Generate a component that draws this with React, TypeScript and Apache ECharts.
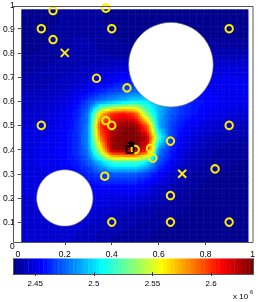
import React, { useEffect, useRef } from 'react';
import * as echarts from 'echarts';

// ---- data ----
const fieldX = [0, 0.05, 0.1, 0.15, 0.2, 0.25, 0.3, 0.35, 0.4, 0.45, 0.5, 0.55, 0.6, 0.65, 0.7, 0.75, 0.8, 0.85, 0.9, 0.95, 1];
const fieldY = [1, 0.95, 0.9, 0.85, 0.8, 0.75, 0.7, 0.65, 0.6, 0.55, 0.5, 0.45, 0.4, 0.35, 0.3, 0.25, 0.2, 0.15, 0.1, 0.05, 0];
// values in units of 10^6, rows from y=1 (top) to y=0 (bottom)
const fieldRows = [
  [2.432, 2.432, 2.432, 2.433, 2.434, 2.435, 2.435, 2.434, 2.433, 2.432, 2.432, 2.432, 2.432, 2.432, 2.432, 2.432, 2.432, 2.432, 2.432, 2.432, 2.432],
  [2.432, 2.432, 2.433, 2.434, 2.435, 2.436, 2.436, 2.435, 2.433, 2.432, 2.432, 2.432, 2.432, 2.432, 2.432, 2.432, 2.432, 2.432, 2.432, 2.432, 2.432],
  [2.432, 2.433, 2.433, 2.434, 2.436, 2.437, 2.437, 2.436, 2.434, 2.433, 2.432, 2.432, 2.432, 2.432, 2.432, 2.432, 2.432, 2.433, 2.433, 2.433, 2.433],
  [2.433, 2.433, 2.434, 2.435, 2.437, 2.438, 2.438, 2.437, 2.435, 2.434, 2.433, 2.432, 2.432, 2.432, 2.432, 2.433, 2.434, 2.435, 2.435, 2.435, 2.435],
  [2.434, 2.434, 2.435, 2.436, 2.438, 2.439, 2.439, 2.438, 2.437, 2.436, 2.435, 2.434, 2.434, 2.434, 2.435, 2.437, 2.439, 2.440, 2.440, 2.440, 2.439],
  [2.436, 2.436, 2.437, 2.438, 2.439, 2.440, 2.441, 2.442, 2.443, 2.444, 2.444, 2.441, 2.439, 2.439, 2.440, 2.442, 2.444, 2.446, 2.447, 2.446, 2.445],
  [2.438, 2.438, 2.439, 2.440, 2.441, 2.443, 2.445, 2.448, 2.451, 2.455, 2.456, 2.452, 2.447, 2.446, 2.446, 2.447, 2.449, 2.451, 2.452, 2.451, 2.449],
  [2.440, 2.440, 2.441, 2.442, 2.444, 2.447, 2.452, 2.458, 2.463, 2.468, 2.472, 2.472, 2.468, 2.463, 2.459, 2.456, 2.454, 2.453, 2.453, 2.452, 2.450],
  [2.443, 2.443, 2.444, 2.446, 2.449, 2.455, 2.468, 2.480, 2.488, 2.495, 2.505, 2.503, 2.490, 2.476, 2.466, 2.460, 2.456, 2.454, 2.453, 2.452, 2.450],
  [2.445, 2.445, 2.446, 2.448, 2.452, 2.460, 2.478, 2.565, 2.600, 2.608, 2.595, 2.530, 2.492, 2.474, 2.464, 2.458, 2.454, 2.451, 2.449, 2.447, 2.446],
  [2.447, 2.447, 2.448, 2.450, 2.454, 2.462, 2.482, 2.600, 2.620, 2.632, 2.632, 2.590, 2.490, 2.468, 2.458, 2.452, 2.448, 2.445, 2.443, 2.442, 2.441],
  [2.449, 2.449, 2.450, 2.452, 2.455, 2.463, 2.484, 2.582, 2.628, 2.635, 2.635, 2.625, 2.520, 2.468, 2.453, 2.447, 2.443, 2.440, 2.439, 2.438, 2.437],
  [2.450, 2.450, 2.451, 2.453, 2.456, 2.463, 2.482, 2.548, 2.630, 2.635, 2.635, 2.610, 2.482, 2.462, 2.449, 2.443, 2.440, 2.437, 2.436, 2.436, 2.435],
  [2.450, 2.450, 2.451, 2.452, 2.455, 2.460, 2.472, 2.495, 2.518, 2.522, 2.522, 2.505, 2.470, 2.455, 2.445, 2.440, 2.437, 2.435, 2.435, 2.434, 2.434],
  [2.449, 2.449, 2.450, 2.451, 2.453, 2.456, 2.462, 2.468, 2.472, 2.474, 2.473, 2.466, 2.456, 2.447, 2.441, 2.437, 2.435, 2.434, 2.434, 2.434, 2.434],
  [2.448, 2.448, 2.449, 2.450, 2.451, 2.453, 2.455, 2.456, 2.457, 2.457, 2.456, 2.452, 2.446, 2.441, 2.438, 2.435, 2.434, 2.433, 2.433, 2.433, 2.433],
  [2.447, 2.447, 2.448, 2.449, 2.450, 2.451, 2.451, 2.451, 2.450, 2.449, 2.448, 2.445, 2.441, 2.438, 2.436, 2.434, 2.434, 2.433, 2.433, 2.433, 2.433],
  [2.447, 2.447, 2.447, 2.448, 2.448, 2.448, 2.448, 2.447, 2.445, 2.443, 2.441, 2.439, 2.437, 2.436, 2.435, 2.434, 2.433, 2.433, 2.433, 2.432, 2.432],
  [2.447, 2.447, 2.447, 2.447, 2.447, 2.446, 2.445, 2.443, 2.441, 2.439, 2.438, 2.437, 2.435, 2.434, 2.433, 2.433, 2.433, 2.432, 2.432, 2.432, 2.432],
  [2.446, 2.446, 2.446, 2.446, 2.445, 2.444, 2.442, 2.440, 2.438, 2.437, 2.436, 2.435, 2.434, 2.433, 2.433, 2.432, 2.432, 2.432, 2.432, 2.432, 2.432],
  [2.445, 2.445, 2.445, 2.445, 2.444, 2.443, 2.441, 2.439, 2.437, 2.436, 2.435, 2.434, 2.433, 2.433, 2.432, 2.432, 2.432, 2.432, 2.432, 2.432, 2.432],
];

const colorMin = 2.4313;
const colorMax = 2.6358;
const colorbarTicks = [2.45, 2.5, 2.55, 2.6];

const sensorX = [0.15, 0.375, 0.1, 0.4, 0.15, 0.335, 0.465, 0.1, 0.375, 0.4, 0.9, 0.9, 0.37, 0.4, 0.65, 0.565, 0.575, 0.84, 0.65, 0.65, 0.9, 0.5];
const sensorY = [0.975, 0.985, 0.9, 0.9, 0.855, 0.695, 0.655, 0.5, 0.52, 0.5, 0.9, 0.5, 0.29, 0.1, 0.435, 0.405, 0.365, 0.32, 0.21, 0.1, 0.1, 0.4];
const crossX = [0.2, 0.7];
const crossY = [0.8, 0.3];
const starX = [0.484];
const starY = [0.425];
const squareX = [0.478];
const squareY = [0.4];
const obstacleX = [0.652, 0.2];
const obstacleY = [0.751, 0.2];
const obstacleR = [0.18, 0.12];

// ---- style helpers ----
const FONT = 'Liberation Sans, Arial, Helvetica, sans-serif';
const FILL_X0 = 0.015, FILL_X1 = 0.98, FILL_Y0 = 0.017, FILL_Y1 = 0.98;
const NLEV = 64;

function clamp01(v: number) { return Math.max(0, Math.min(1, v)); }
function jetRGB(t: number): string {
  const r = clamp01(1.5 - Math.abs(4 * t - 3));
  const g = clamp01(1.5 - Math.abs(4 * t - 2));
  const b = clamp01(1.5 - Math.abs(4 * t - 1));
  return `rgb(${Math.round(r * 255)},${Math.round(g * 255)},${Math.round(b * 255)})`;
}
const jetColors: string[] = [];
for (let i = 0; i < NLEV; i++) jetColors.push(jetRGB((i + 1) / NLEV));
function colorFor(v: number): string {
  let idx = Math.floor(((v - colorMin) / (colorMax - colorMin)) * NLEV);
  idx = Math.max(0, Math.min(NLEV - 1, idx));
  return jetColors[idx];
}

function buildCells() {
  const cells: number[][] = [];
  for (let r = 0; r < fieldY.length - 1; r++) {
    for (let c = 0; c < fieldX.length - 1; c++) {
      cells.push([
        fieldX[c], fieldY[r + 1], fieldX[c + 1], fieldY[r],
        fieldRows[r + 1][c], fieldRows[r + 1][c + 1], fieldRows[r][c], fieldRows[r][c + 1],
      ]);
    }
  }
  return cells;
}
// colour-scale legend bands (one per colormap level)
function buildColorbar() {
  const step = (colorMax - colorMin) / NLEV;
  return jetColors.map((_, i) => [colorMin + i * step, colorMin + (i + 1) * step, i]);
}

const STAR = 'path://M50,0 L61,35 L98,35 L68,57 L79,91 L50,70 L21,91 L32,57 L2,35 L39,35 Z';
const CROSS = 'path://M0,0 L10,10 M10,0 L0,10';

export default function App() {
  const ref = useRef<HTMLDivElement>(null);
  useEffect(() => {
    if (!ref.current) return;
    const chart = echarts.init(ref.current, undefined, { renderer: 'svg' });
    const SUB = 5;
    const labelStyle = { fontFamily: FONT, fontSize: 8.5, color: '#000' };
    const frameLine = { show: true, lineStyle: { color: '#555', width: 1 } };
    const option: any = {
      animation: false,
      textStyle: { fontFamily: FONT },
      grid: [
        { left: 13.4, right: 2.1, top: 2.9, bottom: 55.7 },
        { left: 13.3, right: 5, top: 258.5, height: 15.5 },
      ],
      xAxis: [
        {
          gridIndex: 0, type: 'value', min: 0, max: 1, interval: 0.2, position: 'bottom', offset: -3.6,
          axisLine: { show: false }, splitLine: { show: false },
          axisTick: { inside: true, length: 2.5, customValues: [0.2, 0.4, 0.6, 0.8], lineStyle: { color: '#444' } },
          axisLabel: { ...labelStyle, margin: 7, formatter: (v: number) => String(+v.toFixed(1)) },
        },
        {
          gridIndex: 0, type: 'value', min: 0, max: 1, interval: 0.2, position: 'top', offset: -3.8,
          axisLine: { show: false }, splitLine: { show: false }, axisLabel: { show: false },
          axisTick: { inside: true, length: 2.5, customValues: [0.2, 0.4, 0.6, 0.8], lineStyle: { color: '#444' } },
        },
        {
          gridIndex: 1, type: 'value', min: colorMin, max: colorMax, position: 'bottom', z: 10,
          axisLine: frameLine, splitLine: { show: false },
          axisTick: { inside: true, length: 2, customValues: colorbarTicks, lineStyle: { color: '#333' } },
          axisLabel: { ...labelStyle, fontSize: 8, margin: 5, customValues: colorbarTicks, formatter: (v: number) => String(+v.toFixed(2)) },
        },
        {
          gridIndex: 1, type: 'value', min: colorMin, max: colorMax, position: 'top', z: 10,
          axisLine: frameLine, splitLine: { show: false },
          axisTick: { inside: true, length: 2, customValues: colorbarTicks, lineStyle: { color: '#333' } },
          axisLabel: { show: false },
        },
      ],
      yAxis: [
        {
          gridIndex: 0, type: 'value', min: 0, max: 1, interval: 0.1, position: 'left',
          axisLine: { show: false }, splitLine: { show: false },
          axisTick: { inside: true, length: 2.5, customValues: [0.1, 0.2, 0.3, 0.4, 0.5, 0.6, 0.7, 0.8, 0.9], lineStyle: { color: '#444' } },
          axisLabel: { ...labelStyle, margin: 3, formatter: (v: number) => String(+v.toFixed(1)) },
        },
        {
          gridIndex: 0, type: 'value', min: 0, max: 1, interval: 0.1, position: 'right', offset: -2.9,
          axisLine: { show: false }, splitLine: { show: false }, axisLabel: { show: false },
          axisTick: { inside: true, length: 2.5, customValues: [0.1, 0.2, 0.3, 0.4, 0.5, 0.6, 0.7, 0.8, 0.9], lineStyle: { color: '#444' } },
        },
        {
          gridIndex: 1, type: 'value', min: 0, max: 1, position: 'left', z: 10,
          axisLine: frameLine, splitLine: { show: false },
          axisTick: { show: false }, axisLabel: { show: false },
        },
        {
          gridIndex: 1, type: 'value', min: 0, max: 1, position: 'right', z: 10,
          axisLine: frameLine, splitLine: { show: false },
          axisTick: { show: false }, axisLabel: { show: false },
        },
      ],
      graphic: [
        { type: 'rect', z: 50, shape: { x: 13.5, y: 6.5, width: 239.5, height: 236 }, style: { fill: 'none', stroke: '#555', lineWidth: 1 } },
        { type: 'text', z: 50, left: 233, top: 292.5, style: { text: 'x 10', fontFamily: FONT, fontSize: 8, fill: '#000' } },
        { type: 'text', z: 50, left: 250, top: 289, style: { text: '6', fontFamily: FONT, fontSize: 5.5, fill: '#000' } },
      ],
      series: [
        {
          type: 'custom', xAxisIndex: 0, yAxisIndex: 0, z: 1, silent: true,
          encode: { x: [0, 2], y: [1, 3] },
          data: buildCells(),
          renderItem: (params: any, api: any) => {
            const x0 = api.value(0), y0 = api.value(1), x1 = api.value(2), y1 = api.value(3);
            const vBL = api.value(4), vBR = api.value(5), vTL = api.value(6), vTR = api.value(7);
            const children: any[] = [];
            for (let a = 0; a < SUB; a++) {
              for (let b = 0; b < SUB; b++) {
                let sx0 = x0 + ((x1 - x0) * a) / SUB, sx1 = x0 + ((x1 - x0) * (a + 1)) / SUB;
                let sy0 = y0 + ((y1 - y0) * b) / SUB, sy1 = y0 + ((y1 - y0) * (b + 1)) / SUB;
                sx0 = Math.max(sx0, FILL_X0); sx1 = Math.min(sx1, FILL_X1);
                sy0 = Math.max(sy0, FILL_Y0); sy1 = Math.min(sy1, FILL_Y1);
                if (sx1 <= sx0 || sy1 <= sy0) continue;
                const fx = ((sx0 + sx1) / 2 - x0) / (x1 - x0);
                const fy = ((sy0 + sy1) / 2 - y0) / (y1 - y0);
                const v = vBL * (1 - fx) * (1 - fy) + vBR * fx * (1 - fy) + vTL * (1 - fx) * fy + vTR * fx * fy;
                const p0 = api.coord([sx0, sy1]);
                const p1 = api.coord([sx1, sy0]);
                children.push({
                  type: 'rect',
                  shape: { x: p0[0], y: p0[1], width: p1[0] - p0[0] + 0.5, height: p1[1] - p0[1] + 0.5 },
                  style: { fill: colorFor(v) },
                });
              }
            }
            return { type: 'group', children };
          },
        },
        {
          type: 'custom', xAxisIndex: 0, yAxisIndex: 0, z: 2, silent: true,
          data: obstacleX.map((x, i) => [x, obstacleY[i], obstacleR[i]]),
          renderItem: (params: any, api: any) => {
            const c = api.coord([api.value(0), api.value(1)]);
            const r = api.size([api.value(2), 0])[0];
            return { type: 'circle', shape: { cx: c[0], cy: c[1], r }, style: { fill: '#ffffff', stroke: '#777', lineWidth: 0.6 } };
          },
        },
        {
          type: 'scatter', xAxisIndex: 0, yAxisIndex: 0, z: 3, silent: true,
          symbol: 'circle', symbolSize: 7.5,
          itemStyle: { color: 'rgba(0,0,0,0)', borderColor: '#ffee00', borderWidth: 2, opacity: 1 },
          data: sensorX.map((x, i) => [x, sensorY[i]]),
        },
        {
          type: 'scatter', xAxisIndex: 0, yAxisIndex: 0, z: 3, silent: true,
          symbol: CROSS, symbolSize: 8,
          itemStyle: { color: 'rgba(0,0,0,0)', borderColor: '#ffee00', borderWidth: 2, opacity: 1 },
          data: crossX.map((x, i) => [x, crossY[i]]),
        },
        {
          type: 'scatter', xAxisIndex: 0, yAxisIndex: 0, z: 4, silent: true,
          symbol: 'rect', symbolSize: 7,
          itemStyle: { color: 'rgba(0,0,0,0)', borderColor: '#000', borderWidth: 1.5, opacity: 1 },
          data: squareX.map((x, i) => [x, squareY[i]]),
        },
        {
          type: 'scatter', xAxisIndex: 0, yAxisIndex: 0, z: 5, silent: true,
          symbol: STAR, symbolSize: 9,
          itemStyle: { color: '#000', opacity: 1 },
          data: starX.map((x, i) => [x, starY[i]]),
        },
        {
          type: 'custom', xAxisIndex: 2, yAxisIndex: 2, z: 1, silent: true,
          encode: { x: [0, 1] },
          data: buildColorbar(),
          renderItem: (params: any, api: any) => {
            const p0 = api.coord([api.value(0), 1]);
            const p1 = api.coord([api.value(1), 0]);
            return {
              type: 'rect',
              shape: { x: p0[0], y: p0[1], width: p1[0] - p0[0] + 0.4, height: p1[1] - p0[1] },
              style: { fill: jetColors[api.value(2)] },
            };
          },
        },
      ],
    };
    chart.setOption(option);
    return () => chart.dispose();
  }, []);
  return <div ref={ref} style={{ position: 'fixed', left: 0, top: 0, width: 258, height: 302 }} />;
}
